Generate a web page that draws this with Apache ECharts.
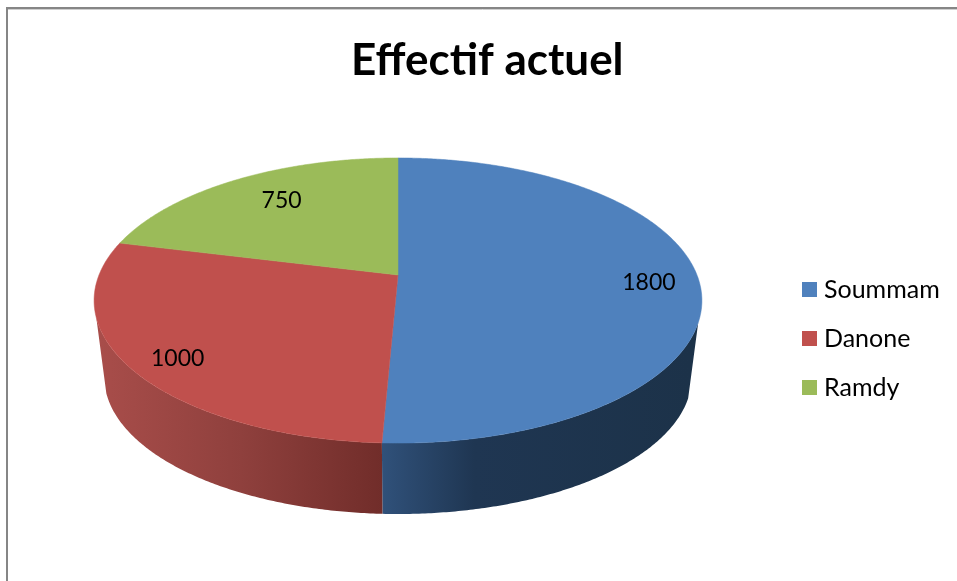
<!DOCTYPE html>
<html>
<head>
<meta charset="utf-8">
<style>html,body{margin:0;padding:0;background:#fff}#c{width:957px;height:581px}</style>
<script src="https://cdn.jsdelivr.net/npm/echarts@6/dist/echarts.min.js"></script>
</head>
<body>
<div id="c"></div>
<script>
const titleText = 'Effectif actuel';
const categories = ['Soummam', 'Danone', 'Ramdy'];
const values = [1800, 1000, 750];
const topColors = ['#4f81bd', '#c0504d', '#9bbb59'];

// Perspective disc layout: a unit circle is projected on to the page
const persp = 0.179;
const topPlane = { cx: 398, cy: 275, fx: 299, fy: 138 };
const basePlane = { cx: 398, cy: 352.5, fx: 289, fy: 132.6 };
const frontArc = [109, 253];
const labelRadius = 0.82;
const labelNudge = [[5, 5], [-5, 9], [19, 5]];
const wallGradients = [
  { x0: 382, x1: 690, stops: [[0, '#30517a'], [0.3, '#1f3652'], [1, '#1c3249']] },
  { x0: 100, x1: 382, stops: [[0, '#a84d4a'], [0.5, '#8f403d'], [1, '#712d2a']] },
  { x0: 0, x1: 1, stops: [[0, '#6f8741'], [1, '#6f8741']] }
];

const total = values.reduce((a, b) => a + b, 0);
const spans = [];
values.reduce((acc, v) => { spans.push([acc / total * 360, (acc + v) / total * 360]); return acc + v; }, 0);

function project(plane, deg, r) {
  const t = deg * Math.PI / 180, u = r * Math.sin(t), v = r * Math.cos(t), w = 1 + persp * v;
  return [plane.cx + plane.fx * u / w, plane.cy - plane.fy * v / w];
}
function arc(plane, a, b) {
  const pts = [], n = Math.max(2, Math.ceil(Math.abs(b - a) * 2));
  for (let i = 0; i <= n; i++) pts.push(project(plane, a + (b - a) * i / n, 1));
  return pts;
}
function renderSlice(i) {
  const [a, b] = spans[i];
  const children = [];
  const wa = Math.max(a, frontArc[0]), wb = Math.min(b, frontArc[1]);
  if (wb > wa) {
    const g = wallGradients[i];
    children.push({
      type: 'polygon', z2: 1,
      shape: { points: arc(topPlane, wa, wb).concat(arc(basePlane, wb, wa)) },
      style: {
        fill: new echarts.graphic.LinearGradient(g.x0, 0, g.x1, 0,
          g.stops.map(s => ({ offset: s[0], color: s[1] })), true)
      }
    });
  }
  children.push({
    type: 'polygon', z2: 2,
    shape: { points: [project(topPlane, 0, 0)].concat(arc(topPlane, a, b)) },
    style: { fill: topColors[i], stroke: topColors[i], lineWidth: 0.5 }
  });
  const mid = project(topPlane, (a + b) / 2, labelRadius);
  children.push({
    type: 'text', z2: 3,
    x: mid[0] + labelNudge[i][0], y: mid[1] + labelNudge[i][1],
    style: {
      text: String(values[i]), fill: '#000', align: 'center', verticalAlign: 'middle',
      font: '23px Lato'
    }
  });
  return { type: 'group', children };
}

const chart = echarts.init(document.getElementById('c'), null, { renderer: 'canvas' });
chart.setOption({
  animation: false,
  backgroundColor: '#fff',
  title: {
    text: titleText, left: 351, top: 39, padding: 0,
    textStyle: { fontFamily: 'Lato', fontWeight: 'bold', fontSize: 44, color: '#000' }
  },
  legend: {
    orient: 'vertical', left: 802, top: 277, padding: 0, icon: 'rect',
    itemWidth: 15, itemHeight: 15, itemGap: 24,
    data: categories,
    textStyle: { fontFamily: 'Lato', fontSize: 25, lineHeight: 24, color: '#000', padding: [0, 0, 0, 2] }
  },
  graphic: [
    { type: 'line', silent: true, shape: { x1: 6, y1: 8, x2: 957, y2: 8 }, style: { stroke: '#868686', lineWidth: 2 } },
    { type: 'line', silent: true, shape: { x1: 8, y1: 9.5, x2: 957, y2: 9.5 }, style: { stroke: '#cfcfcf', lineWidth: 1 } },
    { type: 'line', silent: true, shape: { x1: 7, y1: 8, x2: 7, y2: 581 }, style: { stroke: '#868686', lineWidth: 2 } }
  ],
  series: categories.map((name, i) => ({
    type: 'custom', name, coordinateSystem: 'none',
    itemStyle: { color: topColors[i] },
    data: [values[i]],
    renderItem: () => renderSlice(i)
  }))
});
</script>
</body>
</html>
